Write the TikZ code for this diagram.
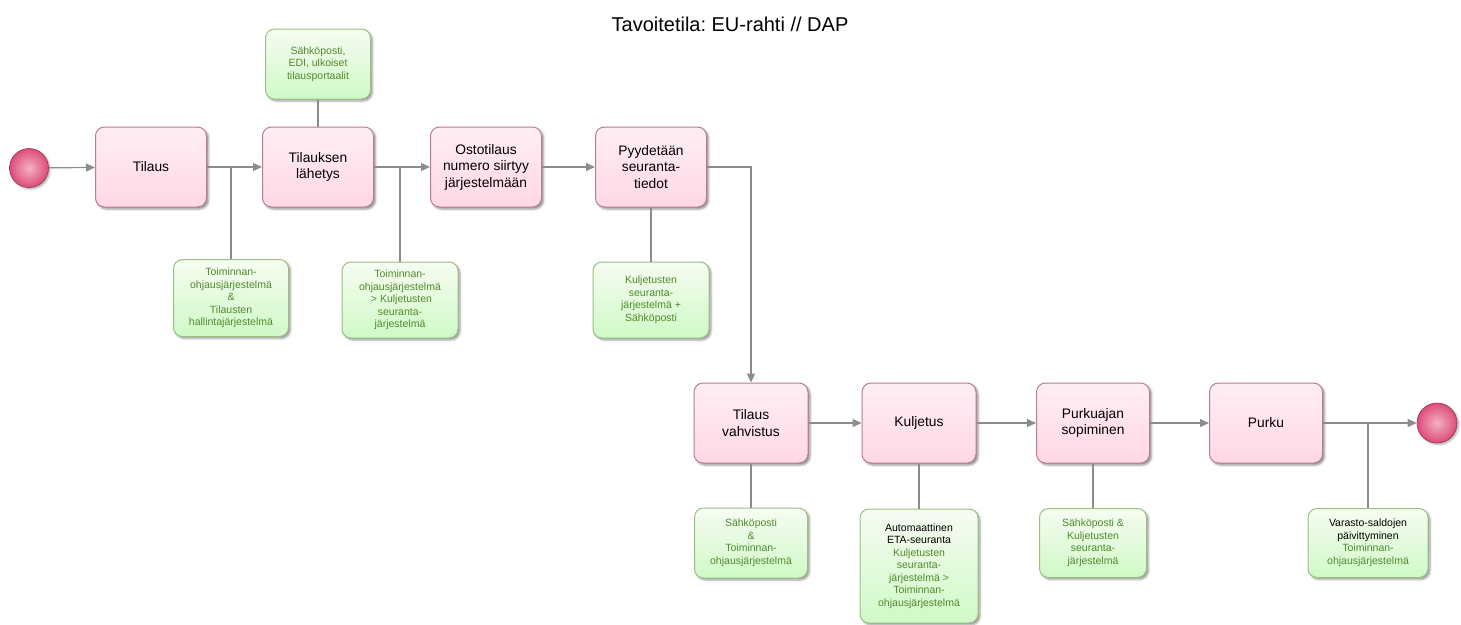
\documentclass[tikz,border=0pt]{standalone}
\usepackage{fontspec}
\setmainfont{Liberation Sans}
\frenchspacing
\usetikzlibrary{arrows.meta,shadows.blur}
\definecolor{pinkfill}{HTML}{FFDCEA}
\definecolor{pinkedge}{HTML}{B97C92}
\definecolor{greenfill}{HTML}{EAF7DE}
\definecolor{greenedge}{HTML}{9DBE83}
\definecolor{greentext}{HTML}{4F8A2B}
\definecolor{linegray}{HTML}{8C8C8C}
\definecolor{ballpink}{HTML}{E8507F}
\tikzset{
  x=1pt,y=-1pt,
  task/.style={draw=pinkedge,line width=1pt,rounded corners=9pt,top color=pinkfill!50!white,bottom color=pinkfill!85!pink,
    minimum width=111pt,minimum height=80pt,align=center,font=\fontsize{13.8}{16.5}\selectfont,
    blur shadow={shadow xshift=2pt,shadow yshift=-2pt,shadow blur steps=4,shadow opacity=45}},
  sys/.style={draw=greenedge,line width=1pt,rounded corners=9pt,top color=greenfill!40!white,bottom color=greenfill!85!green!85!white,
    align=center,text=greentext,font=\fontsize{10.5}{12.5}\selectfont,inner sep=2pt,
    blur shadow={shadow xshift=2pt,shadow yshift=-2pt,shadow blur steps=4,shadow opacity=40}},
  ev/.style={circle,draw=ballpink!65!black,line width=0.6pt,inner color=ballpink!45!white,outer color=ballpink!95!black,minimum size=39pt,
    blur shadow={shadow xshift=1.5pt,shadow yshift=-1.5pt,shadow blur steps=3,shadow opacity=35}},
  flow/.style={draw=linegray,line width=1.2pt,-{Triangle[length=9pt,width=8pt]}},
  assoc/.style={draw=linegray,line width=1.2pt},
}
\begin{document}
\begin{tikzpicture}
\useasboundingbox (0,0) rectangle (1461,624);
\node[font=\fontsize{20}{24}\selectfont] (title) at (730,24) {Tavoitetila: EU-rahti // DAP};

\node[ev] (start) at (29,168) {};
\node[task] (t1) at (151,167) {Tilaus};
\node[task] (t2) at (318,167) {Tilauksen\\lähetys};
\node[task] (t3) at (486,167) {Ostotilaus\\numero siirtyy\\järjestelmään};
\node[task] (t4) at (651,167) {Pyydetään\\seuranta-\\tiedot};
\node[task,minimum width=114pt] (t5) at (751,423) {Tilaus\\vahvistus};
\node[task,minimum width=114pt] (t6) at (919,423) {Kuljetus};
\node[task,minimum width=113pt] (t7) at (1093,423) {Purkuajan\\sopiminen};
\node[task,minimum width=113pt] (t8) at (1266,423) {Purku};
\node[ev,minimum size=40pt] (end) at (1437,423) {};

\node[sys,minimum width=105pt,minimum height=70pt] (s0) at (318,64) {Sähköposti,\\EDI, ulkoiset\\tilausportaalit};
\node[sys,minimum width=115pt,minimum height=77pt] (s1) at (231,298) {Toiminnan-\\ohjausjärjestelmä\\\&\\Tilausten\\hallintajärjestelmä};
\node[sys,minimum width=116pt,minimum height=76pt] (s2) at (400,300) {Toiminnan-\\ohjausjärjestelmä\\\ > Kuljetusten\\seuranta-\\järjestelmä};
\node[sys,minimum width=116pt,minimum height=76pt] (s3) at (651,300) {Kuljetusten\\seuranta-\\järjestelmä +\\Sähköposti};
\node[sys,minimum width=113pt,minimum height=70pt] (s4) at (751,543) {Sähköposti\\\&\\Toiminnan-\\ohjausjärjestelmä};
\node[sys,minimum width=118pt,minimum height=114pt] (s5) at (919,566) {\textcolor{black}{Automaattinen}\\\textcolor{black}{ETA-seuranta}\\Kuljetusten\\seuranta-\\järjestelmä >\\Toiminnan-\\ohjausjärjestelmä};
\node[sys,minimum width=107pt,minimum height=69pt] (s6) at (1093,543) {Sähköposti \&\\Kuljetusten\\seuranta-\\järjestelmä};
\node[sys,minimum width=120pt,minimum height=69pt] (s7) at (1368,543) {\textcolor{black}{Varasto-saldojen}\\\textcolor{black}{päivittyminen}\\Toiminnan-\\ohjausjärjestelmä};

\draw[flow] (start) -- (t1);
\draw[flow] (t1) -- (t2);
\draw[flow] (t2) -- (t3);
\draw[flow] (t3) -- (t4);
\draw[flow] (t4.east) -| (t5.north);
\draw[flow] (t5) -- (t6);
\draw[flow] (t6) -- (t7);
\draw[flow] (t7) -- (t8);
\draw[flow] (t8) -- (end);

\draw[assoc] (s0) -- (t2);
\draw[assoc] (s1.north) -- (s1.north |- t1.east);
\draw[assoc] (s2.north) -- (s2.north |- t2.east);
\draw[assoc] (t4) -- (s3);
\draw[assoc] (t5) -- (s4);
\draw[assoc] (t6) -- (s5);
\draw[assoc] (t7) -- (s6);
\draw[assoc] (s7.north) -- (s7.north |- t8.east);
\end{tikzpicture}
\end{document}
